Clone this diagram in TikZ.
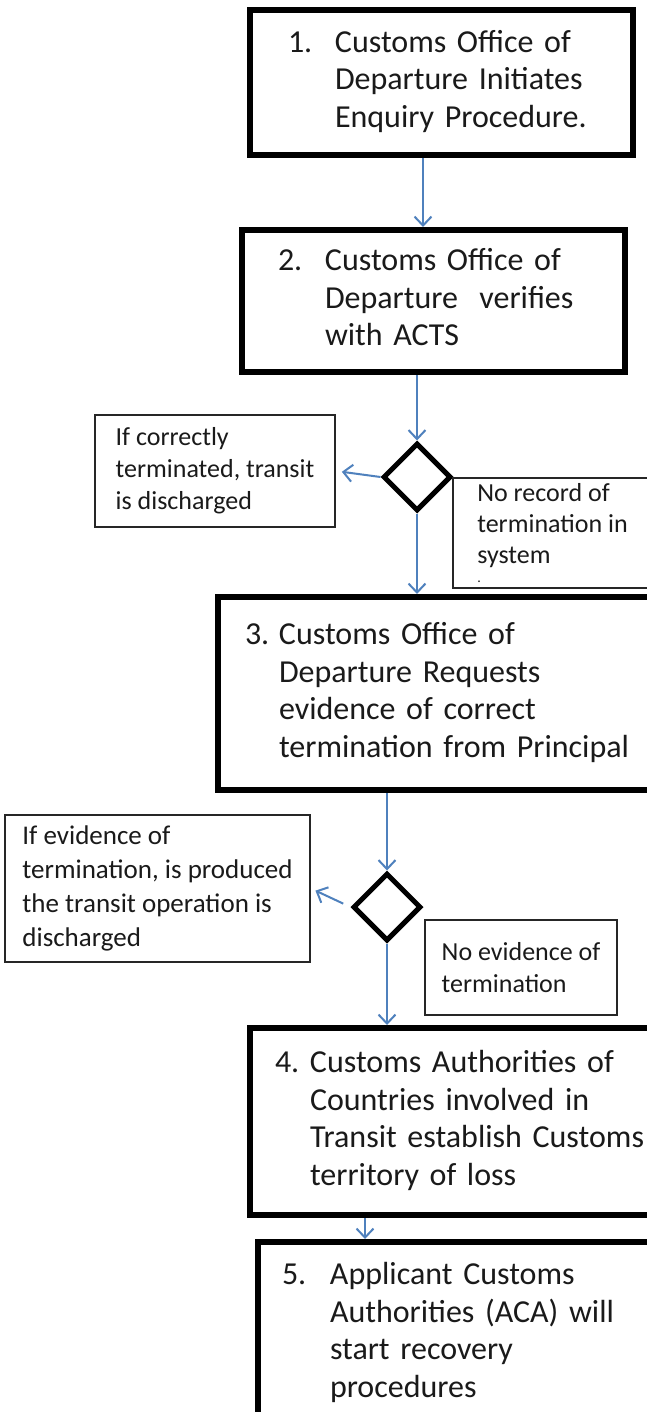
\documentclass[tikz,border=0pt]{standalone}
\usepackage{fontspec}
\setmainfont{Carlito}
\usetikzlibrary{arrows.meta,shapes.geometric}
\definecolor{flowblue}{HTML}{4F81BD}
\definecolor{inkgrey}{HTML}{1A1A1A}
\tikzset{>={Straight Barb[length=9pt,width=17pt]},
  stepbox/.style={draw=black, line width=6pt, fill=white, align=left, text=inkgrey,
    font=\fontsize{32}{37.5}\selectfont},
  notebox/.style={draw=black!85, line width=1.8pt, fill=white, align=left, text=inkgrey,
    font=\fontsize{26}{32}\selectfont},
  decision/.style={diamond, draw=black, line width=5pt, minimum width=68pt,
    minimum height=68pt, inner sep=0pt},
  flow/.style={->, draw=flowblue, line width=2pt}}

\begin{document}
\begin{tikzpicture}[x=1pt,y=-1pt]
        \fill[white] (0,0) rectangle (646,1412);
        \useasboundingbox (0,0) rectangle (646,1412);

        % the five steps
        \node[stepbox, inner xsep=38pt, text width=307pt, minimum height=145pt] (step1) at (441.5,82.5)
          {\begin{tabular}{@{}p{47pt}@{}l@{}}1. & Customs Office of\\ & Departure Initiates\\ & Enquiry Procedure.\end{tabular}};
        \node[stepbox, inner xsep=36pt, text width=311pt, minimum height=142pt] (step2) at (433.5,301)
          {\begin{tabular}{@{}p{47pt}@{}l@{}}2. & Customs Office of\\ & Departure~ verifies\\ & with ACTS\end{tabular}};
        \node[stepbox, inner xsep=27pt, text width=380pt, minimum height=193pt] (step3) at (435,693.5)
          {\begin{tabular}{@{}p{34pt}@{}l@{}}3. & Customs Office of\\ & Departure Requests\\ & evidence of correct\\ & termination from Principal\end{tabular}};
        \node[stepbox, inner xsep=25pt, text width=352pt, minimum height=187pt] (step4) at (451,1121.5)
          {\begin{tabular}{@{}p{35pt}@{}l@{}}4. & Customs Authorities of\\ & Countries involved in\\ & Transit establish Customs\\ & territory of loss\end{tabular}};
        \node[stepbox, inner xsep=24pt, text width=346pt, minimum height=183pt] (step5) at (455,1333.5)
          {\begin{tabular}{@{}p{48pt}@{}l@{}}5. & Applicant Customs\\ & Authorities (ACA) will\\ & start recovery\\ & procedures\end{tabular}};

        % checks
        \node[decision] (dec1) at (417,477) {};
        \node[decision] (dec2) at (387,907) {};

        % side notes
        \node[notebox, minimum width=240pt, minimum height=112pt] (noteA) at (215,471)
          {If correctly\\terminated, transit\\is discharged};
        \node[notebox, font=\fontsize{26}{31}\selectfont, minimum width=199pt, minimum height=110pt] (noteB) at (552.5,533)
          {No record of\\termination in\\system\\[-12pt]{\fontsize{14}{14}\selectfont .}};
        \node[notebox, font=\fontsize{27}{34}\selectfont, minimum width=305pt, minimum height=147pt] (noteC) at (157.5,888.5)
          {If evidence of\\termination, is produced\\the transit operation is\\discharged};
        \node[notebox, minimum width=192pt, minimum height=95pt] (noteD) at (521,967.5)
          {No evidence of\\termination};

        \draw[flow] ([xshift=-18.5pt]step1.south) -- ([xshift=-10.5pt]step2.north);
        \draw[flow] (dec1.north |- step2.south) -- (dec1.north);
        \draw[flow, shorten >=6pt] (dec1.west) -- (noteA.east);
        \draw[flow] (dec1.south) -- (dec1.south |- step3.north);
        \draw[flow] (dec2.north |- step3.south) -- (dec2.north);
        \draw[flow, shorten <=8pt, shorten >=5pt] (dec2.west) -- (noteC.east);
        \draw[flow] (dec2.south) -- (dec2.south |- step4.north);
        \draw[flow] ([xshift=-86pt]step4.south) -- ([xshift=-86pt]step4.south |- step5.north);
\end{tikzpicture}
\end{document}
